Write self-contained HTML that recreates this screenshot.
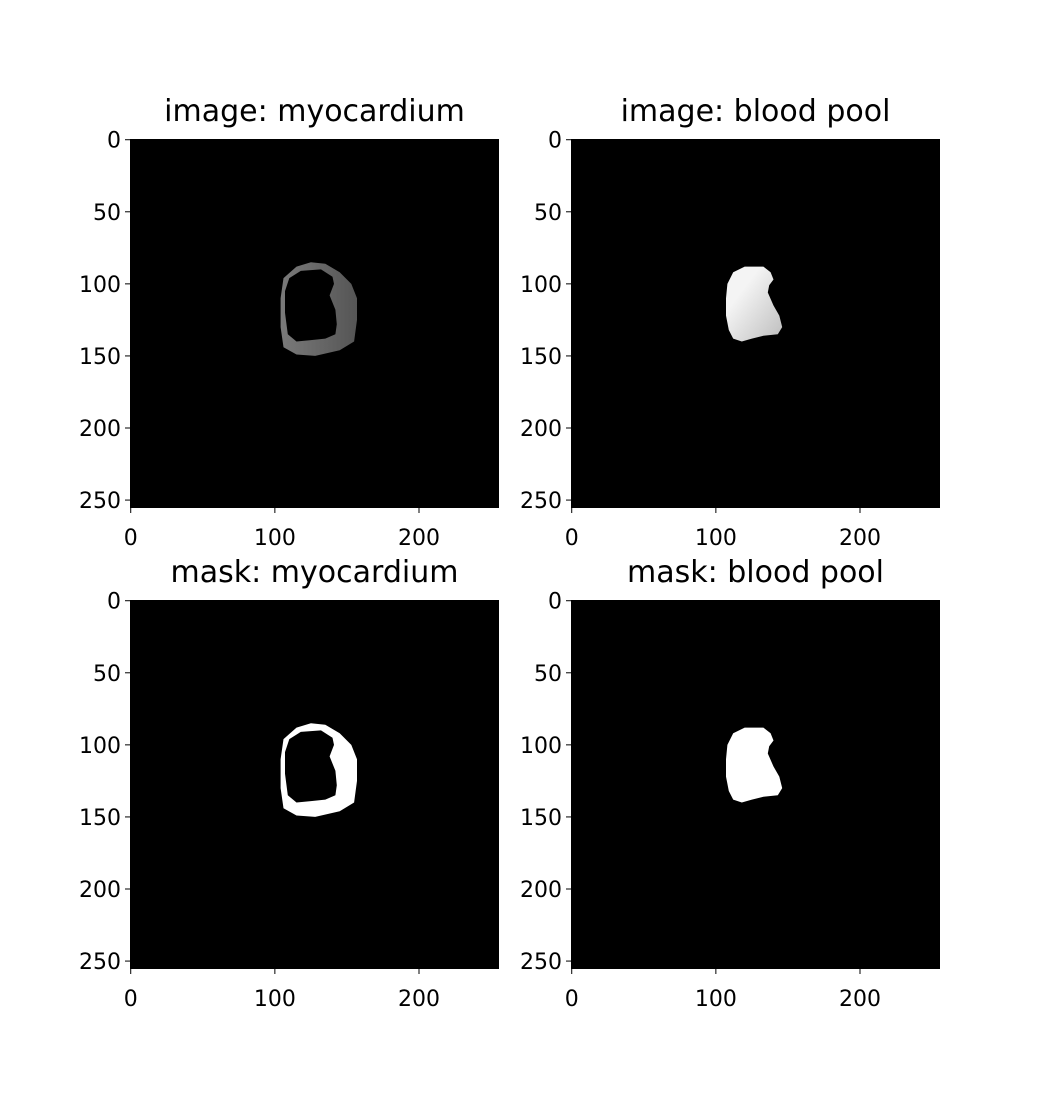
<!DOCTYPE html>
<html><head><meta charset="utf-8"><style>
body{margin:0;background:#fff}
svg text{font-family:"DejaVu Sans","Liberation Sans",sans-serif;fill:#000}
</style></head><body>
<svg id="fig" width="1044" height="1098" xmlns="http://www.w3.org/2000/svg">
<defs>
<linearGradient id="bpg" x1="0" y1="0" x2="1" y2="1"><stop offset="0.3" stop-color="#f4f4f4"/><stop offset="1" stop-color="#bdbdbd"/></linearGradient>
<linearGradient id="myg" x1="0" y1="0" x2="1" y2="0"><stop offset="0" stop-color="#7a7a7a"/><stop offset="1" stop-color="#555"/></linearGradient>
</defs>
</svg>
<script>
const panelTitles = ["image: myocardium","image: blood pool","mask: myocardium","mask: blood pool"];
const panelX = [130,571,130,571];
const panelY = [139,139,600,600];
const yTicks = [0,50,100,150,200,250];
const xTicks = [0,100,200];
const myoOuter = [[115,88],[125,85],[135,86],[145,92],[153,100],[157,110],[157,125],[155,140],[145,146],[128,150],[115,149],[106,144],[104,130],[104,110],[106,96]];
const myoInner = [[118,91],[132,90],[140,95],[141,100],[138,108],[142,118],[143,128],[142,135],[135,138],[125,139],[115,140],[109,135],[107,120],[107,105],[110,96]];
const bloodPool = [[120,88],[133,88],[138,92],[140,97],[137,101],[136,106],[140,115],[144,122],[146,130],[143,135],[133,136],[125,138],[118,140],[112,138],[109,132],[107,122],[107,110],[108,100],[112,92]];
const SIZE=369, EXT=256;
const svg=document.getElementById('fig'), NS='http://www.w3.org/2000/svg';
function mk(t,a,p){const e=document.createElementNS(NS,t);for(const k in a)e.setAttribute(k,a[k]);(p||svg).appendChild(e);return e;}
for(let i=0;i<4;i++){
  const x0=panelX[i], y0=panelY[i];
  const sx=v=>x0+(v+0.5)*SIZE/EXT, sy=v=>y0+(v+0.5)*SIZE/EXT;
  const g=mk('g',{});
  
  
  const r=mk('rect',{x:x0,y:y0,width:SIZE,height:SIZE,fill:'#000'},g);
  
  
  const poly=pts=>'M'+pts.map(p=>sx(p[0]).toFixed(1)+','+sy(p[1]).toFixed(1)).join('L')+'Z';
  const isMask=i>=2, isMyo=i%2===0;
  let path;
  if(isMyo){path=mk('path',{d:poly(myoOuter)+poly(myoInner),'fill-rule':'evenodd',fill:isMask?'#fff':'url(#myg)'},g);
    }
  else{path=mk('path',{d:poly(bloodPool),fill:isMask?'#fff':'url(#bpg)'},g);
    }
  
  const t=mk('text',{x:x0+SIZE/2,y:y0-18,'font-size':'30','text-anchor':'middle'},g);t.textContent=panelTitles[i];
  
  
  yTicks.forEach(v=>{mk('line',{x1:x0-5,x2:x0,y1:sy(v),y2:sy(v),stroke:'#000'},g);
    const l=mk('text',{x:x0-9,y:sy(v)+8,'font-size':'22','text-anchor':'end'},g);l.textContent=v;
    
    });
  xTicks.forEach(v=>{mk('line',{x1:sx(v),x2:sx(v),y1:y0+SIZE,y2:y0+SIZE+5,stroke:'#000'},g);
    const l=mk('text',{x:sx(v),y:y0+SIZE+37,'font-size':'22','text-anchor':'middle'},g);l.textContent=v;
    
    });
}
</script>
</body></html>
